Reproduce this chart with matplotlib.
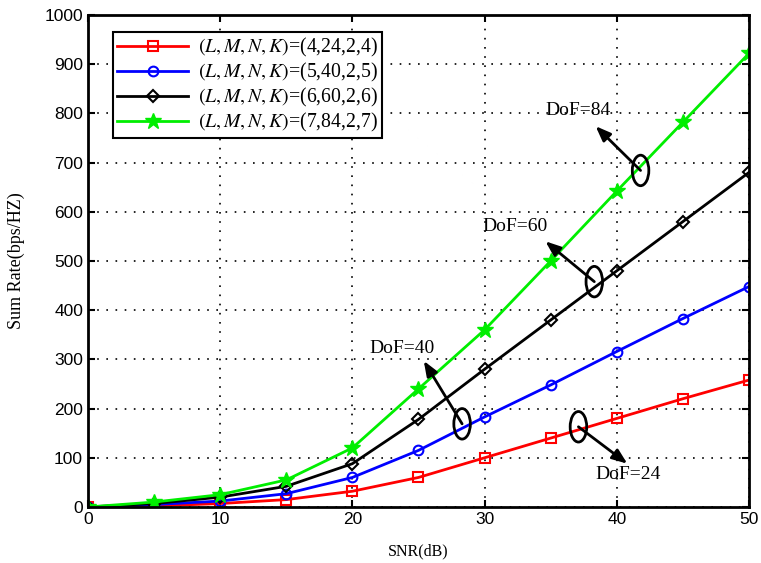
import matplotlib.pyplot as plt
from matplotlib.patches import Ellipse
import numpy as np

plt.rcParams['mathtext.fontset'] = 'stix'

snr = [0, 5, 10, 15, 20, 25, 30, 35, 40, 45, 50]
rate_4 = [0, 2, 7, 15, 32, 60, 100, 140, 180, 220, 258]
rate_5 = [0, 5, 12, 27, 60, 115, 183, 248, 316, 383, 448]
rate_6 = [0, 7, 20, 42, 88, 178, 280, 380, 480, 580, 680]
rate_7 = [0, 10, 25, 55, 120, 240, 360, 500, 642, 782, 922]
labels = ['(4,24,2,4)', '(5,40,2,5)', '(6,60,2,6)', '(7,84,2,7)']

fig = plt.figure(figsize=(7.61, 5.63), dpi=100)
ax = fig.add_axes([0.1156, 0.0995, 0.8686, 0.8739])

serif = 'Liberation Serif'
ax.plot(snr, rate_4, color='red', lw=2, marker='s', ms=7, mfc='none', mew=1.5,
        label='$(L,M,N,K)$=' + labels[0])
ax.plot(snr, rate_5, color='blue', lw=2, marker='o', ms=7, mfc='none', mew=1.5,
        label='$(L,M,N,K)$=' + labels[1])
ax.plot(snr, rate_6, color='black', lw=2, marker='D', ms=6, mfc='none', mew=1.5,
        label='$(L,M,N,K)$=' + labels[2])
ax.plot(snr, rate_7, color='#00ee00', lw=2, marker='*', ms=12, mew=1,
        label='$(L,M,N,K)$=' + labels[3])

ax.set_xlim(0, 50)
ax.set_ylim(0, 1000)
ax.set_xticks(range(0, 51, 10))
ax.set_yticks(range(0, 1001, 100))
ax.grid(True, color='black', linestyle=(0, (1, 4.5)), linewidth=1.2)
ax.tick_params(direction='in', top=True, right=True, labelsize=12.5, length=5, width=1.5)
for s in ax.spines.values():
    s.set_linewidth(2)
for t in ax.get_xticklabels() + ax.get_yticklabels():
    t.set_family('Liberation Sans')

ax.set_xlabel('SNR(dB)', fontsize=11.5, family=serif, labelpad=12)
ax.set_ylabel('Sum Rate(bps/HZ)', fontsize=13, family=serif, labelpad=14)

leg = ax.legend(loc='upper left', bbox_to_anchor=(0.038, 0.965), borderaxespad=0,
                prop={'family': serif, 'size': 14.2}, fancybox=False,
                edgecolor='black', framealpha=1, handlelength=3.6, handletextpad=0.5,
                labelspacing=0.1, borderpad=0.2)
leg.get_frame().set_linewidth(1.5)

# DoF annotations: ellipse position, arrow tip, text position
notes = [
    ('DoF=84', (41.8, 684), (38.4, 774), (34.6, 805)),
    ('DoF=60', (38.3, 458), (34.6, 540), (29.8, 570)),
    ('DoF=40', (28.3, 169), (25.4, 297), (21.3, 322)),
    ('DoF=24', (37.1, 163), (40.8, 88), (38.4, 67)),
]
for txt, c, tip, tp in notes:
    ax.add_patch(Ellipse(c, 1.25, 62, fill=False, edgecolor='black', lw=2, zorder=5))
    ax.annotate('', xy=tip, xytext=c,
                arrowprops=dict(arrowstyle='-|>,head_length=0.9,head_width=0.35',
                                color='black', lw=2, shrinkA=0, shrinkB=0), zorder=5)
    ax.text(tp[0], tp[1], txt, fontsize=14, family=serif, va='center', ha='left')

fig.savefig('out.png', dpi=100)
